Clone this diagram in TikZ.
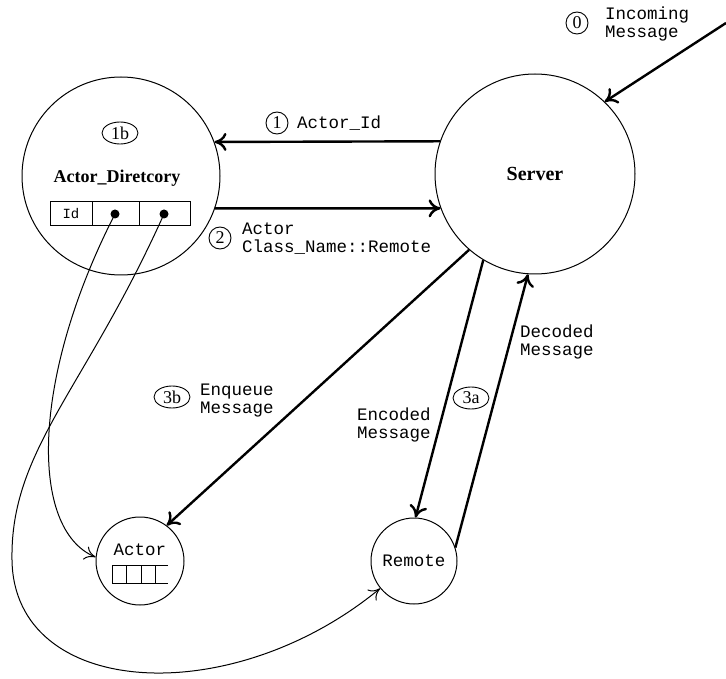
\documentclass[tikz,border=0pt]{standalone}
\usepackage{fontspec}
\setmainfont{Liberation Serif}
\setmonofont{Liberation Mono}
\usetikzlibrary{shapes.geometric,arrows.meta}

\begin{document}
\begin{tikzpicture}[x=1pt,y=-1pt,
    every node/.style={inner sep=0pt},
    state/.style={circle,draw,line width=1pt},
    tag/.style={circle,draw,line width=0.9pt,minimum size=22pt,font=\fontsize{18}{18}\selectfont},
    subtag/.style={ellipse,draw,line width=0.9pt,minimum width=36pt,minimum height=22pt,font=\fontsize{18}{18}\selectfont},
    msg/.style={anchor=west,align=left,font=\ttfamily\fontsize{17.5}{18}\selectfont},
    flow/.style={line width=2.4pt,-{To[length=12pt,width=18pt]}},
    link/.style={line width=1pt,-{To[length=11pt,width=14pt]}}]
      \useasboundingbox (0,0) rectangle (726,679);
      \draw
        (121,176) node[state,minimum size=198pt] (dir) {}
        (117,178) node[font=\bfseries\fontsize{18}{18}\selectfont] (dirname) {Actor\_Diretcory}
        (120,133) node[subtag] (t1b) {1b};
      \draw
        (535,174) node[state,minimum size=200pt,font=\bfseries\fontsize{20}{20}\selectfont] (server) {Server};
      \draw
        (140,561) node[state,minimum size=88pt] (actor) {}
        (140,550) node[font=\ttfamily\fontsize{17.5}{17.5}\selectfont] (actorname) {Actor};
      \draw
        (414,561) node[state,minimum size=86pt,font=\ttfamily\fontsize{17.5}{17.5}\selectfont] (remote) {Remote};
      % directory table
      \draw[line width=1pt] (50,202) rectangle (190,226) (92,202) -- (92,226) (139,202) -- (139,226);
      \draw
        (71,214) node[font=\ttfamily\fontsize{14}{14}\selectfont] (idcell) {Id}
        (115,214) node[circle,fill,minimum size=9pt] (dot1) {}
        (164,214) node[circle,fill,minimum size=9pt] (dot2) {};
      % actor queue
      \draw[line width=1pt] (168,565) -- (112,565) -- (112,583) -- (168,583);
      \foreach \x in {126,141,155} \draw[line width=1pt] (\x,565) -- (\x,583);
      % labels
      \draw
        (577,23) node[tag] (t0) {0}
        (605,24) node[msg] (incoming) {Incoming\\Message}
        (277,123) node[tag] (t1) {1}
        (297,123) node[msg] (actorid) {Actor\_Id}
        (220,238) node[tag] (t2) {2}
        (242,239) node[msg] (classname) {Actor\\Class\_Name::Remote}
        (172,397) node[subtag] (t3b) {3b}
        (200,401) node[msg] (enqueue) {Enqueue\\Message}
        (471,398) node[subtag] (t3a) {3a}
        (357,425) node[msg] (encoded) {Encoded\\Message}
        (520,342) node[msg] (decoded) {Decoded\\Message};
      \coordinate (in) at (726,23);
      \coordinate (bend) at (12,560);
      \draw[flow] (in) -- (server.46);
      \draw[flow] (server.161) -- (dir.20);
      \draw[flow] (dir.-19) -- (server.200);
      \draw[flow] (server.229) -- (actor.53);
      \draw[flow] (server.239) -- (remote.88);
      \draw[flow] (remote.18) -- (server.266);
      \draw[link] (dot1.center) .. controls (30,380) and (30,530) .. (actor.175);
      \draw[link] (dot2.center) .. controls (85,390) and (10,450) .. (bend)
        .. controls (14,698) and (230,712) .. (remote.219);
\end{tikzpicture}
\end{document}
